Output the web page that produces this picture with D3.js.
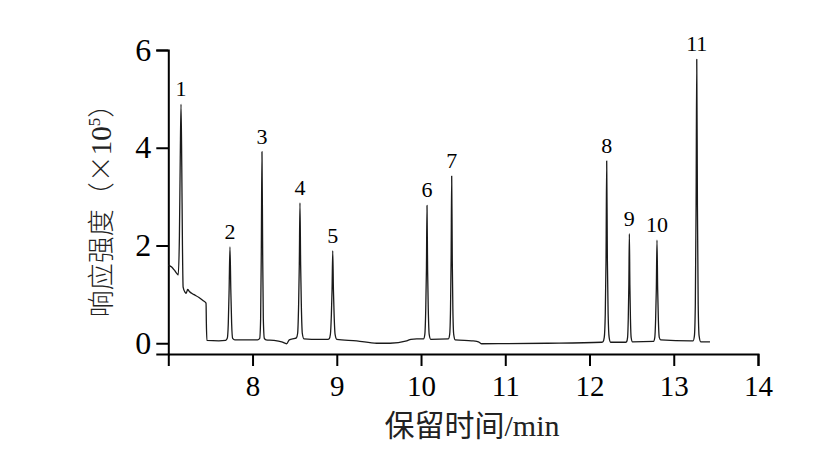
<!DOCTYPE html>
<html><head><meta charset="utf-8">
<script src="https://cdn.jsdelivr.net/npm/d3@7"></script>
<style>
html,body{margin:0;padding:0;background:#fff;}
svg{display:block;}
</style></head>
<body>
<svg id="chart" width="817" height="455"></svg>
<script>
// ---- data ----
const retentionTime = [
  7.000,7.040,7.070,7.100,7.118,7.132,7.142,7.151,7.160,7.168,7.176,7.200,7.212,7.230,7.250,7.300,7.360,7.415,7.448,7.452,7.458,
  7.600,7.680,7.700,7.712,7.722,7.732,7.742,7.752,7.764,7.790,
  8.060,8.085,8.096,8.104,8.112,8.120,8.128,8.140,8.160,
  8.250,8.346,8.405,8.436,8.504,
  8.520,8.535,8.547,8.555,8.563,8.571,8.579,8.591,8.610,8.700,8.896,
  8.910,8.924,8.936,8.944,8.952,8.960,8.968,8.980,9.000,9.236,9.474,9.632,9.830,9.880,9.949,10.008,
  10.030,10.045,10.056,10.064,10.071,10.078,10.086,10.097,10.115,
  10.325,10.340,10.350,10.357,10.364,10.371,10.378,10.388,10.405,10.600,10.661,10.690,10.720,11.500,12.145,
  12.160,12.175,12.187,12.196,12.204,12.212,12.221,12.233,12.250,12.430,
  12.440,12.452,12.460,12.467,12.473,12.479,12.486,12.494,12.510,
  12.760,12.775,12.785,12.793,12.801,12.809,12.817,12.828,12.845,13.200,
  13.230,13.245,13.256,13.265,13.273,13.281,13.290,13.301,13.320,13.430
];
const responseIntensity = [
  1.60,1.56,1.50,1.43,1.40,2.20,3.80,4.89,3.60,2.00,1.15,1.04,1.02,1.10,1.06,1.00,0.94,0.87,0.82,0.40,0.06,
  0.05,0.06,0.10,0.40,1.10,1.97,1.10,0.40,0.10,0.07,
  0.07,0.10,0.50,1.90,3.92,1.90,0.50,0.10,0.07,
  0.06,0.03,-0.01,0.07,0.10,
  0.11,0.20,0.80,1.60,2.87,1.60,0.80,0.20,0.09,0.08,0.08,
  0.09,0.18,0.60,1.10,1.89,1.10,0.60,0.18,0.08,0.05,0.00,0.00,0.05,0.08,0.09,0.09,
  0.09,0.18,0.70,1.50,2.82,1.50,0.70,0.18,0.08,
  0.09,0.18,0.70,1.70,3.42,1.70,0.70,0.18,0.07,0.05,0.04,0.02,-0.01,0.00,0.02,
  0.03,0.12,0.60,1.70,3.73,1.70,0.60,0.12,0.02,0.02,
  0.03,0.12,0.50,1.20,2.24,1.20,0.50,0.12,0.03,
  0.04,0.12,0.50,1.10,2.11,1.10,0.50,0.12,0.07,0.05,
  0.05,0.15,0.80,2.80,5.81,2.80,0.80,0.15,0.03,0.03
];
const peakLabels = ["1","2","3","4","5","6","7","8","9","10","11"];
const peakTimes  = [7.151,7.732,8.112,8.563,8.952,10.071,10.364,12.204,12.473,12.801,13.273];
const peakHeights= [4.89,1.97,3.92,2.87,1.89,2.82,3.42,3.73,2.24,2.11,5.81];
const xTicks = [8,9,10,11,12,13,14];
const yTicks = [0,2,4,6];
const xTitle = "保留时间/min";
const yTitleCJK = "响应强度（×";
const yTitleNum = "10";
const yTitleSup = "5";
const yTitleEnd = "）";

// ---- drawing ----
const svg = d3.select("#chart");
const serif = "'Liberation Serif','Times New Roman','Noto Sans CJK SC',serif";
const cjk = "'Noto Sans CJK SC','Liberation Serif',sans-serif";
const x = d3.scaleLinear().domain([7,14]).range([168.3,758]);
const y = d3.scaleLinear().domain([-0.22,6]).range([354,50]);

// x axis
const gx = svg.append("g").attr("transform","translate(0,354)")
  .call(d3.axisBottom(x).tickValues(xTicks).tickSizeOuter(0).tickSize(12).tickFormat(d3.format("d")));
gx.select(".domain").attr("stroke","#000").attr("stroke-width",2);
gx.selectAll(".tick line").attr("stroke","#000").attr("stroke-width",2);
gx.selectAll(".tick text").attr("fill","#000").attr("font-family",serif).attr("font-size",29)
  .attr("y",42).attr("dy",null);

// y axis
const gy = svg.append("g").attr("transform","translate(168.3,0)")
  .call(d3.axisLeft(y).tickValues(yTicks).tickSizeOuter(0).tickSize(12).tickFormat(d3.format("d")));
gy.select(".domain").attr("stroke","#000").attr("stroke-width",2);
gy.selectAll(".tick line").attr("stroke","#000").attr("stroke-width",2);
gy.selectAll(".tick text").attr("fill","#000").attr("font-family",serif).attr("font-size",32)
  .attr("x",-17).attr("dy",null).attr("y",10).attr("text-anchor","end");
svg.selectAll(".domain").attr("fill","none");

// chromatogram trace
const pts = retentionTime.map((t,i)=>[t,responseIntensity[i]]);
svg.append("path").datum(pts)
  .attr("fill","none").attr("stroke","#1a1a1a").attr("stroke-width",1.3)
  .attr("stroke-linejoin","round")
  .attr("d", d3.line().x(d=>x(d[0])).y(d=>y(d[1])).curve(d3.curveMonotoneX));

// peak labels
svg.append("g").selectAll("text").data(peakLabels).join("text")
  .attr("x",(d,i)=>x(peakTimes[i]))
  .attr("y",(d,i)=>y(peakHeights[i])-8)
  .attr("text-anchor","middle")
  .attr("font-family",serif).attr("font-size",22).attr("fill","#000")
  .text(d=>d);

// axis titles
svg.append("text").attr("x",472).attr("y",436).attr("text-anchor","middle")
  .attr("font-family",serif).attr("font-size",30).attr("fill","#222").text(xTitle);

const yt = svg.append("text").attr("transform","translate(111,204) rotate(-90)")
  .attr("text-anchor","middle").attr("font-size",27).attr("fill","#222");
yt.append("tspan").attr("font-family",cjk).attr("font-weight",300).text(yTitleCJK);
yt.append("tspan").attr("font-family",serif).attr("font-size",29).text(yTitleNum);
yt.append("tspan").attr("font-family",serif).attr("font-size",17).attr("dy",-11).text(yTitleSup);
yt.append("tspan").attr("font-family",cjk).attr("font-weight",300).attr("dy",11).text(yTitleEnd);
</script>
</body></html>
